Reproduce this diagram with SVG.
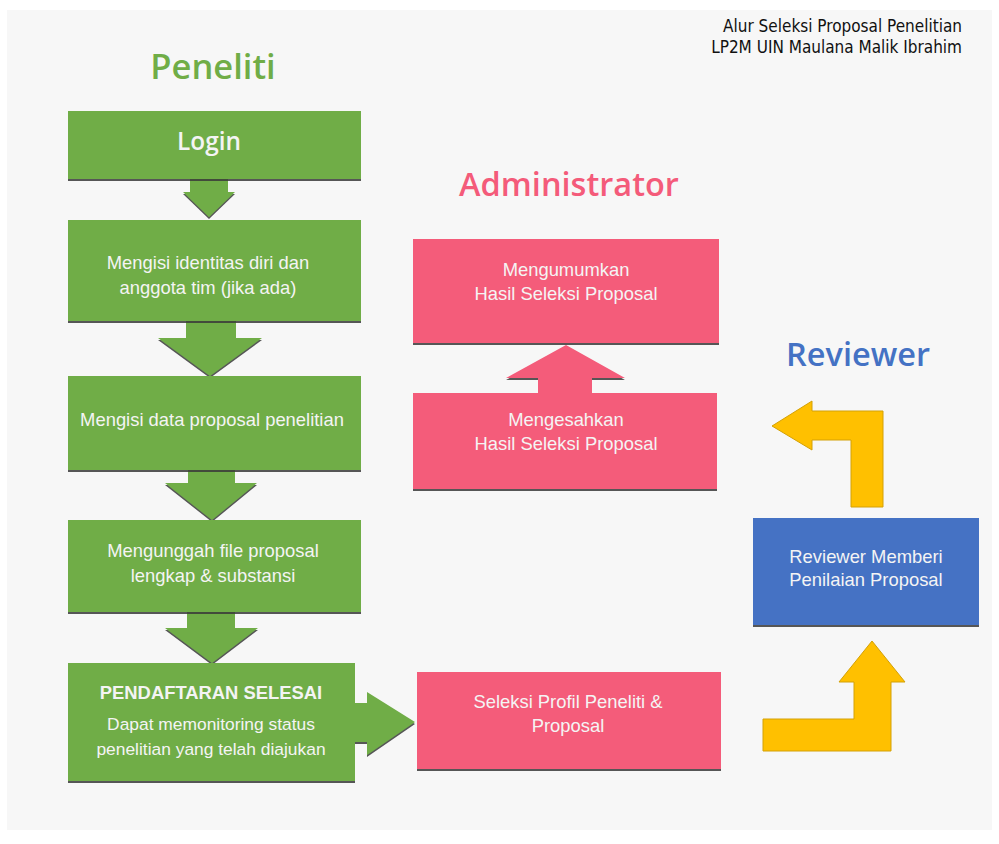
<svg xmlns="http://www.w3.org/2000/svg" width="999" height="844" viewBox="0 0 999 844">
<defs>
<filter id="sh" x="-10%" y="-10%" width="120%" height="130%">
<feDropShadow dx="0" dy="2" stdDeviation="0.6" flood-color="#3a3a3a" flood-opacity="0.85"/>
</filter>
<style>
.g{fill:#70ad47}
.p{fill:#f45b7a}
.b{fill:#4472c4}
.y{fill:#ffc000;stroke:#d4a106;stroke-width:1}
.t{font-family:"Liberation Sans",Arial,sans-serif;font-size:18.4px;fill:#f4f4f4;text-anchor:middle}
.s{font-size:17.4px}
.h{font-family:"Open Sans","Noto Sans",sans-serif;font-weight:600;text-anchor:middle}
.r{font-family:"DejaVu Sans Condensed","DejaVu Sans",sans-serif;font-size:17px;fill:#111;text-anchor:end}
</style>
</defs>
<rect x="0" y="0" width="999" height="844" fill="#ffffff"/>
<rect x="7" y="10" width="985" height="820" fill="#f7f7f7"/>
<g id="header">
<text class="r" x="962" y="32">Alur Seleksi Proposal Penelitian</text>
<text class="r" x="962" y="53">LP2M UIN Maulana Malik Ibrahim</text>
</g>
<g id="title-peneliti"><text class="h" x="213" y="79" font-size="34.5" fill="#70ad47">Peneliti</text></g>
<g id="title-admin"><text class="h" x="569" y="196" font-size="32.5" fill="#f45b7a">Administrator</text></g>
<g id="title-reviewer"><text class="h" x="858" y="366" font-size="32.5" fill="#4472c4">Reviewer</text></g>

<g id="connectors">
<polygon class="g" filter="url(#sh)" points="190,178 228,178 228,192 235,192 209,217 183,192 190,192"/>
<polygon class="g" filter="url(#sh)" points="186,319 236,319 236,338 262,338 210,376 158,338 186,338"/>
<polygon class="g" filter="url(#sh)" points="188,468 235,468 235,483 257,483 212,520 165,483 188,483"/>
<polygon class="g" filter="url(#sh)" points="187,611 235,611 235,628 258,628 212,663 165,628 187,628"/>
<polygon class="g" filter="url(#sh)" points="353,703 367,703 367,692 415,722 367,755 367,742 353,742"/>
<polygon class="p" filter="url(#sh)" points="538,395 538,378 506,378 566,345 625,378 592,378 592,395"/>
<polygon class="y" points="763,719 854,719 854,682 839,682 872,641 905,682 891,682 891,751 763,751"/>
<polygon class="y" points="851,507 851,440 812,440 812,450 772,426 812,401 812,411 883,411 883,507"/>
</g>

<g id="login">
<rect class="g" filter="url(#sh)" x="68" y="111" width="293" height="68"/>
<text class="h" x="209" y="150" font-size="24.4" fill="#f4f4f4">Login</text>
</g>
<g id="identitas">
<rect class="g" filter="url(#sh)" x="68" y="220" width="293" height="101"/>
<text class="t" x="208" y="269">Mengisi identitas diri dan</text>
<text class="t" x="208" y="294">anggota tim (jika ada)</text>
</g>
<g id="data-proposal">
<rect class="g" filter="url(#sh)" x="68" y="376" width="293" height="94"/>
<text class="t" x="212" y="426">Mengisi data proposal penelitian</text>
</g>
<g id="unggah">
<rect class="g" filter="url(#sh)" x="68" y="520" width="293" height="92"/>
<text class="t" x="213" y="557">Mengunggah file proposal</text>
<text class="t" x="213" y="582">lengkap &amp; substansi</text>
</g>
<g id="selesai">
<rect class="g" filter="url(#sh)" x="68" y="663" width="287" height="118"/>
<text class="t" x="211" y="699" font-weight="bold">PENDAFTARAN SELESAI</text>
<text class="t s" x="211" y="730">Dapat memonitoring status</text>
<text class="t s" x="211" y="755">penelitian yang telah diajukan</text>
</g>
<g id="seleksi">
<rect class="p" filter="url(#sh)" x="417" y="672" width="304" height="97"/>
<text class="t" x="568" y="708">Seleksi Profil Peneliti &amp;</text>
<text class="t" x="568" y="732">Proposal</text>
</g>
<g id="reviewer-nilai">
<rect class="b" filter="url(#sh)" x="753" y="518" width="226" height="107"/>
<text class="t" x="866" y="563">Reviewer Memberi</text>
<text class="t" x="866" y="586">Penilaian Proposal</text>
</g>
<g id="mengesahkan">
<rect class="p" filter="url(#sh)" x="413" y="393" width="304" height="96"/>
<text class="t" x="566" y="426">Mengesahkan</text>
<text class="t" x="566" y="450">Hasil Seleksi Proposal</text>
</g>
<g id="mengumumkan">
<rect class="p" filter="url(#sh)" x="413" y="239" width="306" height="104"/>
<text class="t" x="566" y="276">Mengumumkan</text>
<text class="t" x="566" y="300">Hasil Seleksi Proposal</text>
</g>
</svg>
